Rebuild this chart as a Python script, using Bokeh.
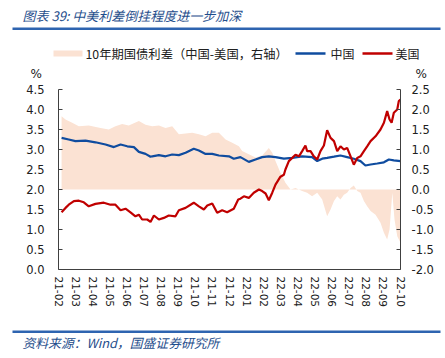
from bokeh.plotting import figure
from bokeh.layouts import column
from bokeh.models import Range1d, LinearAxis, FixedTicker, PrintfTickFormatter
from bokeh.core.properties import value
from bokeh.embed import file_html
from bokeh.resources import INLINE

# ---- data (x = months since 2021-02) ----
months = ["21-02", "21-03", "21-04", "21-05", "21-06", "21-07", "21-08", "21-09", "21-10",
          "21-11", "21-12", "22-01", "22-02", "22-03", "22-04", "22-05", "22-06", "22-07",
          "22-08", "22-09", "22-10"]
left_ticks = [0.0, 0.5, 1.0, 1.5, 2.0, 2.5, 3.0, 3.5, 4.0, 4.5]
right_ticks = [-2.0, -1.5, -1.0, -0.5, 0.0, 0.5, 1.0, 1.5, 2.0, 2.5]

cn_x = [0.18, 0.60, 0.99, 1.58, 2.16, 2.75, 3.24, 3.63, 4.02, 4.41, 4.70, 5.09, 5.38, 5.48, 5.87,
        6.26, 6.65, 7.04, 7.43, 7.91, 8.21, 8.60, 8.99, 9.38, 9.97, 10.25, 10.64, 11.13, 11.52, 11.91,
        12.30, 12.69, 13.18, 13.67, 14.25, 14.83, 15.13, 15.42, 15.71, 16.11, 16.49, 16.88, 17.27, 17.66, 17.95,
        18.25, 18.64, 19.03, 19.32, 19.61, 20.0]
cn_y = [3.29, 3.25, 3.21, 3.22, 3.18, 3.125, 3.06, 3.125, 3.08, 3.06, 2.94, 2.89, 2.82, 2.83, 2.86,
        2.83, 2.875, 2.86, 2.92, 3.02, 2.975, 2.89, 2.89, 2.85, 2.83, 2.77, 2.81, 2.69, 2.75, 2.81,
        2.83, 2.81, 2.77, 2.79, 2.83, 2.81, 2.71, 2.77, 2.79, 2.82, 2.85, 2.81, 2.77, 2.71, 2.60,
        2.625, 2.65, 2.68, 2.75, 2.73, 2.71]

us_x = [0.18, 0.41, 0.60, 0.90, 1.19, 1.48, 1.77, 2.16, 2.65, 3.04, 3.33, 3.63, 3.92, 4.21, 4.50,
        4.70, 4.89, 5.19, 5.38, 5.58, 5.87, 6.16, 6.45, 6.84, 7.04, 7.43, 7.91, 8.21, 8.50, 8.70,
        8.99, 9.28, 9.57, 9.86, 10.25, 10.51, 10.64, 10.84, 11.13, 11.42, 11.72, 11.91, 12.11, 12.30, 12.50,
        12.69, 12.98, 13.18, 13.27, 13.47, 13.67, 13.86, 14.06, 14.25, 14.44, 14.54, 14.74, 14.93, 15.13, 15.32,
        15.52, 15.71, 15.91, 16.11, 16.30, 16.49, 16.69, 16.88, 17.08, 17.27, 17.47, 17.66, 17.86, 18.05, 18.25,
        18.54, 18.83, 19.03, 19.22, 19.36, 19.48, 19.61, 19.81, 19.90, 20.0]
us_y = [1.43, 1.54, 1.62, 1.71, 1.72, 1.68, 1.58, 1.64, 1.67, 1.62, 1.62, 1.48, 1.52, 1.43, 1.33,
        1.37, 1.25, 1.25, 1.19, 1.35, 1.25, 1.29, 1.35, 1.33, 1.48, 1.54, 1.67, 1.58, 1.50, 1.60,
        1.65, 1.42, 1.48, 1.43, 1.52, 1.75, 1.77, 1.83, 1.79, 1.92, 2.00, 1.96, 1.90, 1.73, 1.92,
        2.12, 2.32, 2.37, 2.50, 2.71, 2.79, 2.87, 2.83, 2.96, 3.10, 2.96, 2.96, 2.83, 2.75, 2.96,
        3.10, 3.48, 3.29, 3.21, 2.96, 3.08, 3.00, 3.04, 2.83, 2.62, 2.79, 2.83, 2.96, 3.08, 3.21,
        3.33, 3.50, 3.67, 3.96, 3.75, 3.67, 3.92, 4.00, 4.21, 4.25]

sp_x = [0.18, 0.41, 0.80, 1.19, 1.77, 2.46, 2.94, 3.33, 3.72, 4.11, 4.70, 5.09, 5.48, 5.87, 6.26,
        6.65, 7.04, 7.43, 7.82, 8.21, 8.60, 8.99, 9.38, 9.77, 10.16, 10.55, 10.74, 11.13, 11.52, 11.91,
        12.30, 12.50, 12.69, 12.98, 13.27, 13.57, 13.86, 14.25, 14.54, 14.83, 15.13, 15.42, 15.71, 15.91, 16.11,
        16.30, 16.49, 16.69, 16.88, 17.08, 17.27, 17.47, 17.66, 17.86, 18.05, 18.25, 18.54, 18.83, 19.03, 19.22,
        19.36, 19.52, 19.65, 19.81, 20.0]
sp_y = [1.83, 1.75, 1.67, 1.58, 1.60, 1.54, 1.50, 1.58, 1.64, 1.60, 1.71, 1.62, 1.58, 1.60, 1.54,
        1.58, 1.38, 1.40, 1.42, 1.38, 1.33, 1.42, 1.42, 1.25, 1.17, 1.08, 0.96, 0.88, 0.80, 0.85,
        1.04, 0.92, 0.71, 0.42, 0.17, 0.00, 0.04, -0.04, -0.08, -0.17, -0.08, -0.25, -0.67, -0.50, -0.29,
        -0.17, -0.25, -0.13, -0.08, 0.04, 0.10, -0.04, -0.08, -0.29, -0.42, -0.54, -0.63, -0.83, -1.08, -1.25,
        -1.00, -0.08, -0.75, -1.17, -1.33]

title_text = "图表 39:  中美利差倒挂程度进一步加深"
source_text = "资料来源：Wind，国盛证券研究所"
legend_labels = ["10年期国债利差（中国-美国，右轴）", "中国", "美国"]
unit_text = "%"

# ---- styles ----
C_AREA = "#FBE2D3"
C_CN = "#0F4C9F"
C_US = "#C00000"
C_HEAD = "#1F4E8C"
C_RULE = "#2E64B0"
AXC = "#404040"
TXT = "#202020"
TICK_FONT = "DejaVu Sans"
CJK = "Noto Sans CJK SC"
W = 445


def blank(h):
    f = figure(width=W, height=h, x_range=Range1d(0, W), y_range=Range1d(h, 0),
               min_border=0, output_backend="svg", toolbar_location=None,
               x_axis_location=None, y_axis_location=None, outline_line_color=None)
    f.frame_align = False
    f.xgrid.visible = False
    f.ygrid.visible = False
    return f


# ---- header: title, rule, legend, unit labels ----
HH = 80
head = blank(HH)
head.text(x=[22], y=[15], text=[title_text], text_font=value(CJK), text_font_size="13px",
          text_font_style="italic", text_color=C_HEAD, text_baseline="middle")
head.line(x=[12, 440], y=[28.2, 28.2], line_color=C_RULE, line_width=2.5)
head.quad(left=[53], right=[82], top=[50], bottom=[56], fill_color=C_AREA, line_color=None)
head.text(x=[85], y=[53], text=[legend_labels[0]], text_font=value(CJK), text_font_size="12.3px",
          text_color=TXT, text_baseline="middle")
head.line(x=[295, 325], y=[53, 53], line_color=C_CN, line_width=2.5)
head.text(x=[330], y=[53], text=[legend_labels[1]], text_font=value(CJK), text_font_size="12px",
          text_color=TXT, text_baseline="middle")
head.line(x=[362, 392], y=[53, 53], line_color=C_US, line_width=2.5)
head.text(x=[395], y=[53], text=[legend_labels[2]], text_font=value(CJK), text_font_size="12px",
          text_color=TXT, text_baseline="middle")
head.text(x=[30, 415], y=[73, 73], text=[unit_text, unit_text], text_font=value(TICK_FONT),
          text_font_size="12px", text_color=TXT, text_baseline="middle")

# ---- main chart ----
p = figure(frame_width=342, frame_height=180,
           min_border_left=58, min_border_right=45, min_border_top=9, min_border_bottom=53,
           x_range=Range1d(0, 20), y_range=Range1d(0, 4.5),
           output_backend="svg", toolbar_location=None, outline_line_color=None)
p.frame_align = False
p.extra_y_ranges = {"right": Range1d(-2.0, 2.5)}
p.xgrid.visible = False
p.ygrid.visible = False

p.varea(x=sp_x, y1=[0] * len(sp_x), y2=sp_y, fill_color=C_AREA, fill_alpha=1.0, y_range_name="right")
p.line(cn_x, cn_y, line_color=C_CN, line_width=2.2)
p.line(us_x, us_y, line_color=C_US, line_width=2.2)

xa = p.xaxis[0]
xa.ticker = FixedTicker(ticks=list(range(len(months))))
xa.major_label_overrides = {i: m for i, m in enumerate(months)}
xa.major_label_orientation = "vertical"
xa.major_tick_in = 0
xa.major_tick_out = 0
xa.minor_tick_line_color = None
xa.axis_line_color = AXC
xa.major_label_text_font = TICK_FONT
xa.major_label_text_font_size = "10.5px"
xa.major_label_text_color = TXT
xa.major_label_standoff = 7

ya = p.yaxis[0]
ya.ticker = FixedTicker(ticks=left_ticks)
ya.formatter = PrintfTickFormatter(format="%.1f")
ya.major_tick_in = 4
ya.major_tick_out = 0
ya.minor_tick_line_color = None
ya.axis_line_color = AXC
ya.major_tick_line_color = AXC
ya.major_label_text_font = TICK_FONT
ya.major_label_text_font_size = "11.5px"
ya.major_label_text_color = TXT
ya.major_label_standoff = 14

ra = LinearAxis(y_range_name="right", ticker=FixedTicker(ticks=right_ticks),
                formatter=PrintfTickFormatter(format="%.1f"))
ra.major_tick_in = 4
ra.major_tick_out = 0
ra.minor_tick_line_color = None
ra.axis_line_color = AXC
ra.major_tick_line_color = AXC
ra.major_label_text_font = TICK_FONT
ra.major_label_text_font_size = "11.5px"
ra.major_label_text_color = TXT
ra.major_label_standoff = 11
p.add_layout(ra, "right")

# ---- footer ----
FH = 36
foot = blank(FH)
foot.line(x=[12, 440], y=[9.2, 9.2], line_color=C_RULE, line_width=2.5)
foot.text(x=[22], y=[20], text=[source_text], text_font=value(CJK), text_font_size="12.8px",
          text_font_style="italic", text_color=C_HEAD, text_baseline="middle")

layout = column(head, p, foot, spacing=0)
open("out.html", "w").write(file_html(layout, INLINE))
